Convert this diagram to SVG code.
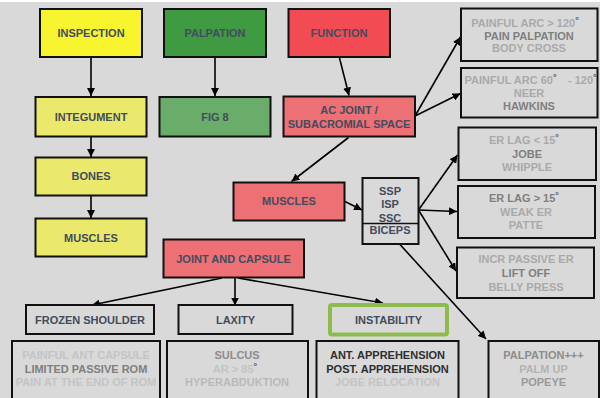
<svg xmlns="http://www.w3.org/2000/svg" width="600" height="398" viewBox="0 0 600 398">
<defs>
<marker id="ah" viewBox="0 0 10 10" refX="10" refY="5" markerWidth="8" markerHeight="8" markerUnits="userSpaceOnUse" orient="auto">
<path d="M0,0 L10,5 L0,10 z" fill="#000"/>
</marker>
<style>
text{font-family:"Liberation Sans",Arial,sans-serif;font-weight:bold;font-size:11px;text-anchor:middle}
.n{fill:#424c5e}
.box{stroke:#111;stroke-width:2}
.g{fill:#d9d9d9}
.yb{fill:#f8f52f}
.y{fill:#ebe96b}
.gb{fill:#3f9a41}
.gl{fill:#6aad6b}
.rb{fill:#f34b53}
.r{fill:#ec7074}
.l1{fill:#a9a9a9}
.l2{fill:#7f7f7f}
.l3{fill:#c4c4c4}
.dk{fill:#2e2e2e}
.deg{fill:#424c5e;font-size:9px}
.c{stroke:#000;stroke-width:1.6;fill:none;marker-end:url(#ah)}
</style>
</defs>
<rect x="0" y="0" width="600" height="398" fill="#ffffff"/>
<rect x="0" y="2" width="600" height="396" fill="#d9d9d9"/>

<g id="connectors">
<line class="c" x1="91" y1="58" x2="91" y2="96"/>
<line class="c" x1="215" y1="58" x2="215" y2="96"/>
<line class="c" x1="91" y1="137" x2="91" y2="157"/>
<line class="c" x1="91" y1="196" x2="91" y2="218"/>
<line class="c" x1="339.5" y1="58" x2="349" y2="95.5"/>
<line class="c" x1="415" y1="116" x2="460.5" y2="37"/>
<line class="c" x1="415" y1="116" x2="460.5" y2="93.5"/>
<line class="c" x1="348.5" y1="137.5" x2="291.5" y2="181.5"/>
<line class="c" x1="345" y1="201.5" x2="362" y2="210"/>
<line class="c" x1="418.5" y1="210" x2="457.5" y2="155"/>
<line class="c" x1="418.5" y1="210" x2="457" y2="211.5"/>
<line class="c" x1="418.5" y1="210" x2="456" y2="271"/>
<line class="c" x1="400" y1="244.5" x2="486" y2="339"/>
<line class="c" x1="222" y1="278" x2="92" y2="305"/>
<line class="c" x1="235" y1="278" x2="235" y2="305.5"/>
<line class="c" x1="238" y1="278" x2="383" y2="303"/>
</g>

<g id="inspection"><rect class="box yb" x="40" y="9" width="102" height="48"/><text class="n" x="91" y="37">INSPECTION</text></g>
<g id="palpation"><rect class="box gb" x="164" y="9" width="102" height="48"/><text class="n" x="215" y="37">PALPATION</text></g>
<g id="function"><rect class="box rb" x="288.5" y="9" width="101.5" height="48"/><text class="n" x="339" y="37">FUNCTION</text></g>

<g id="integument"><rect class="box y" x="35.5" y="97" width="111" height="39.5"/><text class="n" x="91" y="121">INTEGUMENT</text></g>
<g id="fig8"><rect class="box gl" x="159.5" y="97" width="111" height="39.5"/><text class="n" x="215" y="121">FIG 8</text></g>
<g id="acjoint"><rect class="box r" x="283.5" y="96.5" width="131.5" height="40"/><text class="n" x="349" y="114">AC JOINT /</text><text class="n" x="349" y="127.5">SUBACROMIAL SPACE</text></g>

<g id="bones"><rect class="box y" x="35.5" y="157.5" width="111" height="38"/><text class="n" x="91" y="180">BONES</text></g>
<g id="muscles-y"><rect class="box y" x="35.5" y="218.5" width="111" height="38"/><text class="n" x="91" y="241.5">MUSCLES</text></g>
<g id="muscles-r"><rect class="box r" x="233.5" y="182.5" width="111" height="38"/><text class="n" x="289" y="205">MUSCLES</text></g>
<g id="jointcapsule"><rect class="box r" x="163.5" y="239.5" width="140.5" height="38"/><text class="n" x="233.5" y="262.5">JOINT AND CAPSULE</text></g>

<g id="rotatorcuff"><rect class="box g" x="362.5" y="178" width="56" height="66"/><line x1="362.5" y1="223.5" x2="418.5" y2="223.5" stroke="#111" stroke-width="1.3"/>
<text class="n" x="390" y="195">SSP</text><text class="n" x="390" y="208">ISP</text><text class="n" x="390" y="221.5">SSC</text><text class="n" x="390" y="234">BICEPS</text></g>

<g id="box-ac1"><rect class="box g" x="461" y="8.5" width="136.5" height="52.5"/>
<text class="l1" x="525" y="27">PAINFUL ARC &gt; 120<tspan class="deg" dy="-4">°</tspan></text>
<text class="l2" x="529" y="39.5">PAIN PALPATION</text>
<text class="l1" x="529" y="52">BODY CROSS</text></g>
<g id="box-ac2"><rect class="box g" x="461" y="68" width="136.5" height="49.5"/>
<text class="l1" x="464.5" y="83.5" style="text-anchor:start">PAINFUL ARC 60<tspan class="deg" dy="-4">°</tspan><tspan x="568" dy="4">- 120</tspan><tspan class="deg" dy="-4">°</tspan></text>
<text class="l1" x="529" y="97">NEER</text>
<text class="l2" x="529" y="110">HAWKINS</text></g>
<g id="box-rc1"><rect class="box g" x="458.5" y="127.5" width="137.5" height="52.5"/>
<text class="l1" x="524" y="144">ER LAG &lt; 15<tspan class="deg" dy="-4">°</tspan></text>
<text class="l2" x="527" y="158">JOBE</text>
<text class="l1" x="527" y="170.5">WHIPPLE</text></g>
<g id="box-rc2"><rect class="box g" x="458" y="186" width="137" height="52"/>
<text class="l2" x="524" y="202">ER LAG &gt; 15<tspan class="deg" dy="-4">°</tspan></text>
<text class="l1" x="526" y="215.5">WEAK ER</text>
<text class="l1" x="526" y="229">PATTE</text></g>
<g id="box-rc3"><rect class="box g" x="457" y="247.5" width="137" height="50.5"/>
<text class="l1" x="526" y="263">INCR PASSIVE ER</text>
<text class="l2" x="526" y="277">LIFT OFF</text>
<text class="l1" x="526" y="290.5">BELLY PRESS</text></g>

<g id="frozen"><rect class="box g" x="26" y="305" width="128" height="29"/><text class="n" x="90" y="323.5">FROZEN SHOULDER</text></g>
<g id="laxity"><rect class="box g" x="178.5" y="305" width="114" height="29"/><text class="n" x="235.5" y="323.5">LAXITY</text></g>
<g id="instability"><rect x="330" y="305" width="117" height="29.5" rx="2" fill="#d9d9d9" stroke="#8dbb4c" stroke-width="4"/><text class="n" x="388.5" y="323.5">INSTABILITY</text></g>

<g id="frozen-detail"><rect class="box g" x="12" y="341" width="148" height="60"/>
<text class="l3" x="86" y="358.5">PAINFUL ANT CAPSULE</text>
<text class="l2" x="86" y="373">LIMITED PASSIVE ROM</text>
<text class="l3" x="86" y="385.5">PAIN AT THE END OF ROM</text></g>
<g id="laxity-detail"><rect class="box g" x="167" y="341" width="141" height="60"/>
<text fill="#8c8c8c" x="237" y="358.5">SULCUS</text>
<text class="l3" x="235" y="373">AR &gt; 85<tspan class="deg" dy="-4">°</tspan></text>
<text fill="#b9b9b9" x="237" y="385.5">HYPERABDUKTION</text></g>
<g id="instability-detail"><rect class="box g" x="316.5" y="341" width="142" height="60"/>
<text class="dk" x="387.5" y="358.5">ANT. APPREHENSION</text>
<text class="dk" x="387.5" y="373">POST. APPREHENSION</text>
<text class="l3" x="387.5" y="385.5">JOBE RELOCATION</text></g>
<g id="biceps-detail"><rect class="box g" x="488.5" y="341" width="110.5" height="60"/>
<text fill="#8c8c8c" x="543.5" y="358.5">PALPATION+++</text>
<text fill="#b3b3b3" x="543.5" y="373">PALM UP</text>
<text fill="#999999" x="543.5" y="385.5">POPEYE</text></g>
</svg>
